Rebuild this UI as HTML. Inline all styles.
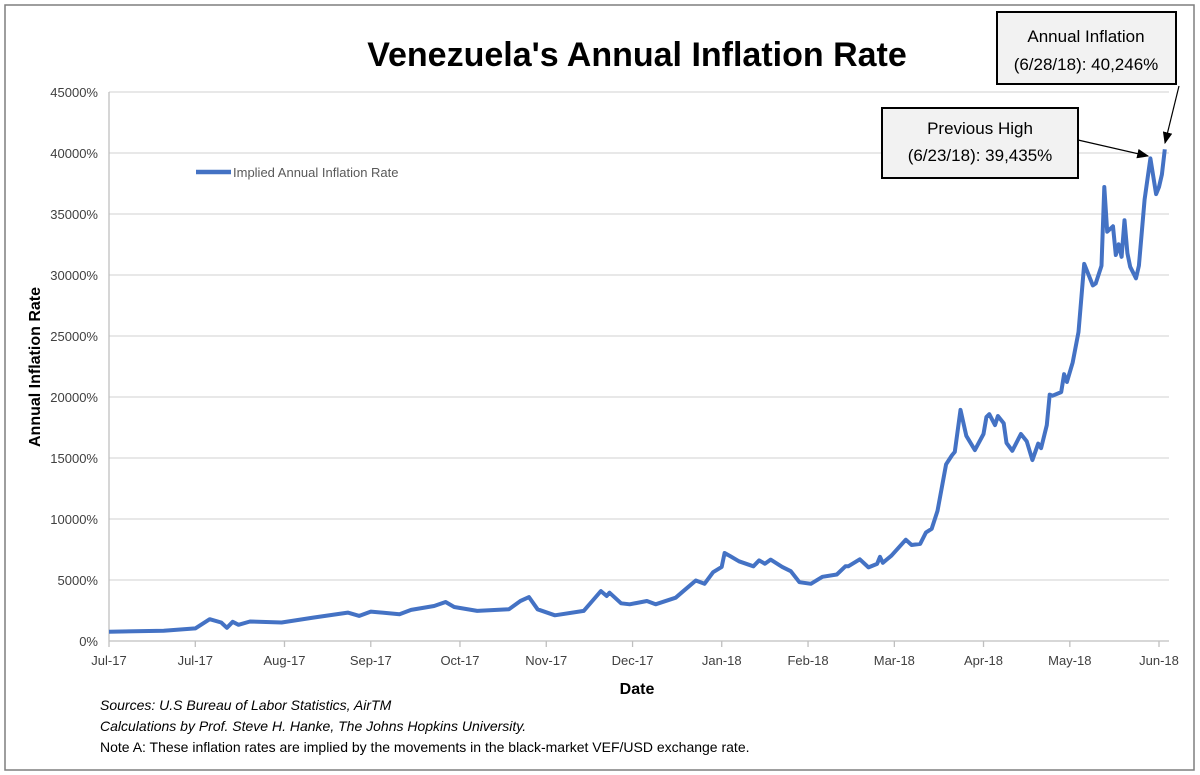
<!DOCTYPE html>
<html><head><meta charset="utf-8"><style>
body{margin:0;background:#fff;}
svg{display:block;font-family:"Liberation Sans",sans-serif;}
</style></head><body>
<svg id="chart" width="1200" height="775">
<rect x="5" y="5" width="1189" height="765" fill="#fff" stroke="#7f7f7f" stroke-width="1.5"/>
<text x="637" y="66" text-anchor="middle" font-size="34" font-weight="bold">Venezuela's Annual Inflation Rate</text>
<g id="grid"></g>
<g id="yticks"></g>
<g id="xticks"></g>
<text transform="translate(40,367) rotate(-90)" text-anchor="middle" font-size="16" font-weight="bold">Annual Inflation Rate</text>
<text x="637" y="694" text-anchor="middle" font-size="16" font-weight="bold">Date</text>
<g>
<line x1="196" y1="172" x2="231" y2="172" stroke="#4472c4" stroke-width="4.5"/>
<text x="233" y="177" font-size="13" fill="#595959">Implied Annual Inflation Rate</text>
</g>
<path id="series" fill="none" stroke="#4472c4" stroke-width="4" stroke-linejoin="round"/>
<defs><marker id="ah" markerWidth="10" markerHeight="8" refX="9" refY="4" orient="auto"><path d="M0,0 L10,4 L0,8z" fill="#000"/></marker></defs>
<g>
<rect x="997" y="12" width="179" height="72" fill="#f2f2f2" stroke="#000" stroke-width="2"/>
<text x="1086" y="42" text-anchor="middle" font-size="17">Annual Inflation</text>
<text x="1086" y="70" text-anchor="middle" font-size="17">(6/28/18): 40,246%</text>
<line x1="1179" y1="86" x2="1165" y2="143" stroke="#000" stroke-width="1.2" marker-end="url(#ah)"/>
</g>
<g>
<rect x="882" y="108" width="196" height="70" fill="#f2f2f2" stroke="#000" stroke-width="2"/>
<text x="980" y="134" text-anchor="middle" font-size="17">Previous High</text>
<text x="980" y="161" text-anchor="middle" font-size="17">(6/23/18): 39,435%</text>
<line x1="1078" y1="140" x2="1148" y2="156" stroke="#000" stroke-width="1.2" marker-end="url(#ah)"/>
</g>
<g font-size="14">
<text x="100" y="710" font-style="italic">Sources: U.S Bureau of Labor Statistics, AirTM</text>
<text x="100" y="731" font-style="italic">Calculations by Prof. Steve H. Hanke, The Johns Hopkins University.</text>
<text x="100" y="752">Note A: These inflation rates are implied by the movements in the black-market VEF/USD exchange rate.</text>
</g>
</svg>
<script>
const days=[0,19,30,35,39,41,43,45,49,60,71,83,87,91,101,105,113,117,120,128,139,143,146,149,155,165,168,171,173,174,178,181,187,190,197,199,204,207,210,213,214,216,219,224,226,228,230,234,237,240,244,248,253,256,257,261,264,267,268,269,272,277,279,282,284,286,288,291,293,294,296,298,301,304,305,306,308,309,311,312,314,317,319,321,323,324,326,327,328,331,332,333,335,337,339,342,343,345,346,347,349,350,351,352,353,354,355,357,358,360,362,364,365,366,367];
const values=[760,840,1030,1790,1520,1080,1570,1330,1600,1520,1920,2330,2060,2410,2200,2550,2870,3200,2790,2470,2600,3280,3600,2600,2110,2470,3280,4090,3690,3960,3090,3010,3280,3010,3550,3960,4960,4690,5640,6070,7210,6940,6530,6120,6610,6340,6670,6070,5720,4820,4690,5260,5450,6120,6120,6700,6030,6320,6900,6410,7000,8300,7870,7960,8900,9200,10660,14480,15210,15500,18940,16820,15650,16970,18350,18590,17700,18440,17850,16240,15590,16970,16380,14830,16180,15800,17700,20200,20110,20400,21870,21230,22840,25330,30910,29150,29300,30760,37210,33550,33990,31640,32520,31490,34490,31790,30670,29730,30760,36190,39560,36630,37210,38240,40300];
const tickDays=[0,30,61,91,122,152,182,213,243,273,304,334,365];
const tickLabels=["Jul-17","Jul-17","Aug-17","Sep-17","Oct-17","Nov-17","Dec-17","Jan-18","Feb-18","Mar-18","Apr-18","May-18","Jun-18"];
const yTicks=[0,5000,10000,15000,20000,25000,30000,35000,40000,45000];
const X0=109,X1=1169,Y0=641,Y1=92;
const xs=d=>X0+d*(1159-X0)/365;
const ys=v=>Y0-v*(Y0-Y1)/45000;
const NS="http://www.w3.org/2000/svg";
const grid=document.getElementById('grid'),yt=document.getElementById('yticks'),xt=document.getElementById('xticks');
yTicks.forEach(v=>{
 const l=document.createElementNS(NS,'line');
 l.setAttribute('x1',X0);l.setAttribute('x2',X1);l.setAttribute('y1',ys(v));l.setAttribute('y2',ys(v));
 l.setAttribute('stroke',v===0?'#bfbfbf':'#d9d9d9');l.setAttribute('stroke-width','1.3');
 
 
 grid.appendChild(l);
 const t=document.createElementNS(NS,'text');
 t.setAttribute('x',98);t.setAttribute('y',ys(v)+5);t.setAttribute('text-anchor','end');t.setAttribute('font-size','13');t.setAttribute('fill','#404040');
 t.textContent=v+'%';
 
 
 yt.appendChild(t);
});
const ax=document.createElementNS(NS,'line');
ax.setAttribute('x1',X0);ax.setAttribute('x2',X0);ax.setAttribute('y1',Y1);ax.setAttribute('y2',Y0);ax.setAttribute('stroke','#bfbfbf');ax.setAttribute('stroke-width','1.3');


grid.appendChild(ax);
tickDays.forEach((d,i)=>{
 const l=document.createElementNS(NS,'line');
 l.setAttribute('x1',xs(d));l.setAttribute('x2',xs(d));l.setAttribute('y1',Y0);l.setAttribute('y2',Y0+6);l.setAttribute('stroke','#bfbfbf');l.setAttribute('stroke-width','1.3');
 
 
 xt.appendChild(l);
 const t=document.createElementNS(NS,'text');
 t.setAttribute('x',xs(d));t.setAttribute('y',665);t.setAttribute('text-anchor','middle');t.setAttribute('font-size','13');t.setAttribute('fill','#404040');
 t.textContent=tickLabels[i];
 
 
 xt.appendChild(t);
});
document.getElementById('series').setAttribute('d',days.map((d,i)=>(i?'L':'M')+xs(d).toFixed(1)+','+ys(values[i]).toFixed(1)).join(' '));
</script>
</body></html>
